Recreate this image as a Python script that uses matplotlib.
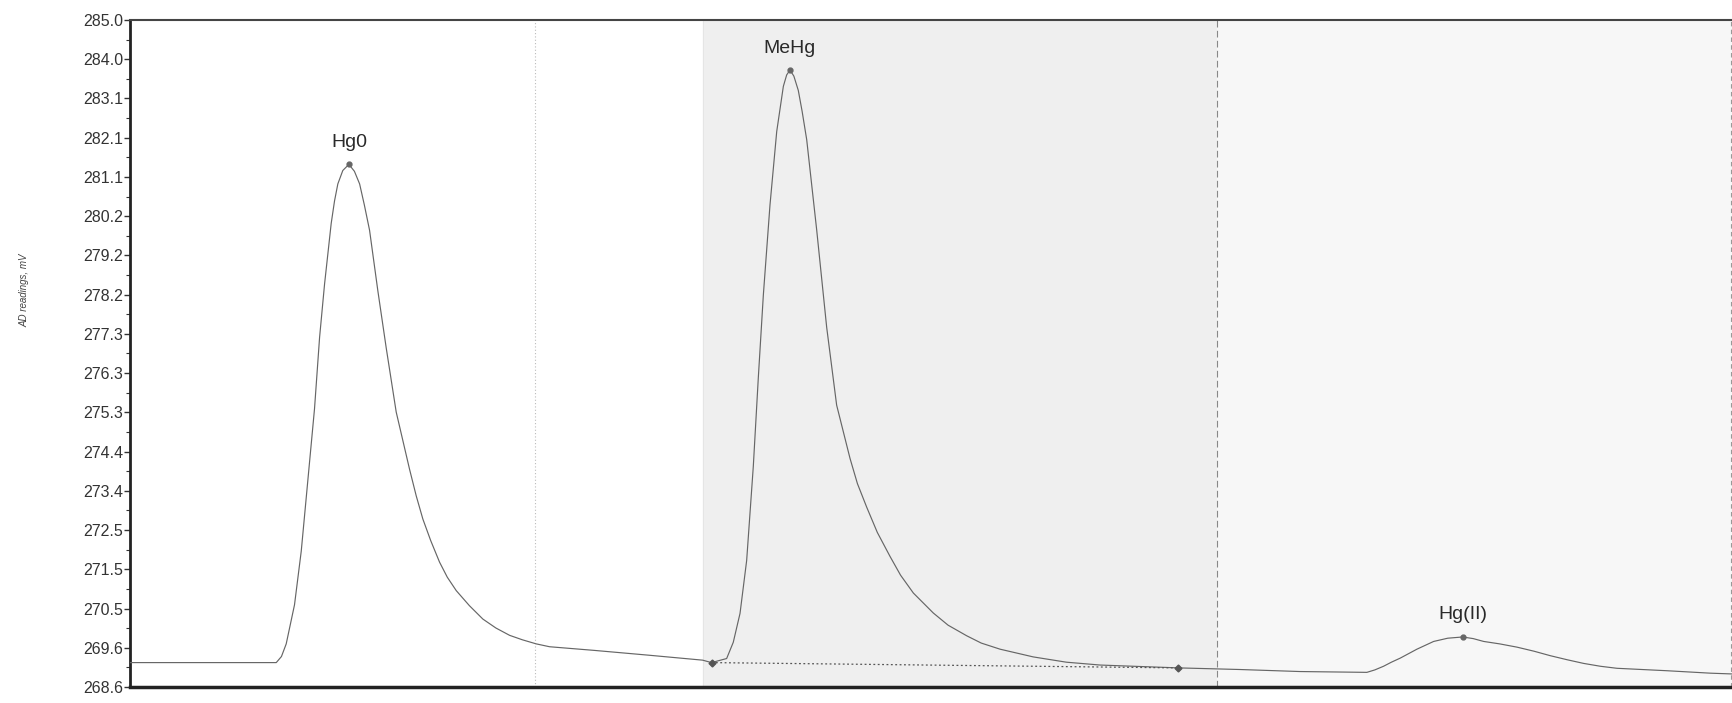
import matplotlib
matplotlib.use("Agg")
import numpy as np
import matplotlib.pyplot as plt

plt.rcParams['font.family'] = ['Liberation Sans', 'DejaVu Sans']

# detector trace (time in arbitrary units)
time = [0, 132.3, 137.0, 141.3, 148.8, 154.9, 160.9, 166.9, 171.5, 176.0, 182.0, 185.0, 188.0,
        192.5, 198.0, 203.0, 207.7, 212.0, 216.7, 224.2, 231.8, 240.8, 252.9, 258.9, 264.9,
        272.0, 280.0, 287.0, 295.1, 307.0, 319.2, 331.0, 343.4, 355.0, 367.5, 379.5,
        420, 470, 518, 526,
        539.7, 545.7, 551.8, 557.8, 563.8, 568.4, 572.9, 578.9, 585.0, 591.0, 594.0,
        597.0, 600.5, 604.5, 608.0, 612.1, 621.1, 630.2, 639.2, 651.3, 658.0, 666.4,
        676.0, 687.5, 697.0, 708.6, 726.6, 740.0, 756.8, 770.0, 787, 817, 847, 877.5,
        907.6, 948.3, 1004, 1058.5, 1118.8, 1126.0, 1133.9, 1141.0, 1149, 1164.1, 1179.2,
        1192.0, 1205.5, 1215.0, 1224.5, 1239.0, 1254.6, 1270.0, 1284.7, 1300.0, 1314.9,
        1330.0, 1345, 1390.3, 1429.5, 1450]
signal = [269.20, 269.20, 269.35, 269.66, 270.62, 271.94, 273.69, 275.44, 277.20, 278.51, 280.00, 280.55, 280.97,
          281.30, 281.45, 281.28, 280.97, 280.45, 279.83, 278.34, 276.93, 275.36, 273.95, 273.30, 272.73,
          272.20, 271.67, 271.30, 270.97, 270.60, 270.27, 270.05, 269.87, 269.76, 269.66, 269.59,
          269.50, 269.38, 269.26, 269.20,
          269.30, 269.70, 270.41, 271.71, 274.02, 276.23, 278.24, 280.45, 282.26, 283.37, 283.65,
          283.77, 283.62, 283.27, 282.75, 282.06, 279.85, 277.44, 275.53, 274.22, 273.60, 273.02,
          272.40, 271.81, 271.35, 270.91, 270.42, 270.12, 269.86, 269.68, 269.53, 269.34, 269.21, 269.14,
          269.11, 269.07, 269.03, 268.98, 268.96, 269.02, 269.11, 269.21, 269.31, 269.53, 269.72,
          269.80, 269.83, 269.79, 269.72, 269.66, 269.58, 269.48, 269.37, 269.27, 269.18,
          269.11, 269.06, 269.00, 268.94, 268.92]

peak_names = ["Hg0", "MeHg", "Hg(II)"]
peak_time = [198.0, 597.0, 1205.5]
peak_value = [281.45, 283.77, 269.83]

# integration baseline for MeHg
base_time = [526, 948.3]
base_value = [269.20, 269.07]

# window boundaries
window_marks = [366, 518, 983, 1448]

ytick_labels = ["268.6", "269.6", "270.5", "271.5", "272.5", "273.4", "274.4", "275.3", "276.3",
                "277.3", "278.2", "279.2", "280.2", "281.1", "282.1", "283.1", "284.0", "285.0"]
y_min, y_max = 268.6, 285.0

fig = plt.figure(figsize=(17.33, 7.03), dpi=100)
ax = fig.add_axes([130/1733, 1-687/703, 1-130/1733, (687-20)/703])
ax.set_xlim(0, 1450)
ax.set_ylim(y_min, y_max)

# shaded windows
ax.axvspan(window_marks[1], window_marks[2], color='#efefef', zorder=0)
ax.axvspan(window_marks[2], 1450, color='#f7f7f7', zorder=0)
ax.axvline(window_marks[0], color='#bbbbbb', lw=0.8, ls=(0, (1, 2)), zorder=1)
ax.axvline(window_marks[1], color='#e4e4e4', lw=0.6, zorder=1)
ax.axvline(window_marks[2], color='#888888', lw=0.8, ls=(0, (6, 3)), zorder=1)
ax.axvline(window_marks[3], color='#999999', lw=0.8, ls=(0, (4, 3)), zorder=1)

ax.plot(time, signal, color='#666666', lw=0.85, zorder=3)
ax.plot(base_time, base_value, color='#555555', lw=0.9, ls=(0, (1.5, 2)), zorder=3)
ax.plot(base_time, base_value, ls='none', marker='D', ms=3.5, color='#555555', zorder=4)
ax.plot(peak_time, peak_value, ls='none', marker='o', ms=3.5, color='#666666', zorder=4)

for name, t, v in zip(peak_names, peak_time, peak_value):
    ax.annotate(name, (t, v), xytext=(0, 22), textcoords='offset pixels',
                ha='center', va='center', fontsize=14, color='#2a2a2a')

ax.set_yticks(np.linspace(y_min, y_max, len(ytick_labels)))
ax.set_yticklabels(ytick_labels)
ax.set_yticks(np.linspace(y_min, y_max, 2*len(ytick_labels)-1), minor=True)
ax.tick_params(axis='y', which='major', labelsize=11.5, colors='#333333', length=4, width=1, pad=1)
ax.tick_params(axis='y', which='minor', length=3, width=0.8, colors='#333333')
ax.set_xticks([])

ax.spines['right'].set_visible(False)
ax.spines['left'].set_linewidth(2)
ax.spines['left'].set_color('#222222')
ax.spines['bottom'].set_linewidth(2.5)
ax.spines['bottom'].set_color('#222222')
ax.spines['top'].set_linewidth(1.5)
ax.spines['top'].set_color('#444444')

fig.text(24/1733, 1-290/703, "AD readings, mV", rotation=90, fontsize=7,
         style='italic', color='#444444', ha='center', va='center')

fig.savefig("out.png", dpi=100)
